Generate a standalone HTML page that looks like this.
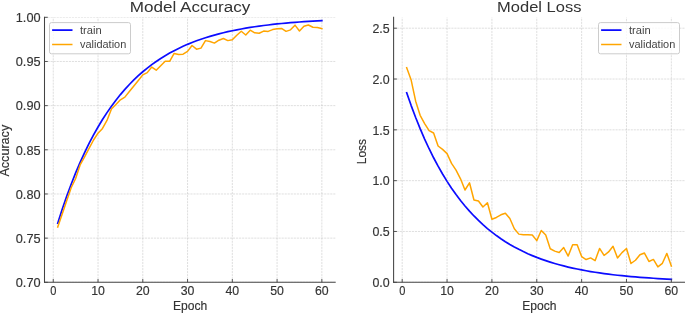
<!DOCTYPE html>
<html><head><meta charset="utf-8"><style>
html,body{margin:0;padding:0;background:#fff;}
svg{display:block;font-family:"Liberation Sans",sans-serif;will-change:transform;}
.tl{stroke:#333;stroke-width:0.15;}
.g{stroke:#b0b0b0;stroke-width:0.6;stroke-dasharray:2.12 0.92;stroke-opacity:0.68;fill:none;}
.sp{stroke:#434343;stroke-width:1.05;fill:none;}
.tk{stroke:#434343;stroke-width:0.9;fill:none;}
.tr{stroke:#0c0cff;stroke-width:1.75;fill:none;stroke-linejoin:round;stroke-linecap:butt;}
.tp{stroke-width:1.7;stroke-linecap:square;}
.val{stroke:#ffa500;stroke-width:1.5;fill:none;stroke-linejoin:round;stroke-linecap:butt;}
.vp{stroke-linecap:square;}
</style></head><body>
<svg width="685" height="313" viewBox="0 0 685 313">
<rect width="685" height="313" fill="#fff"/>
<clipPath id="c44"><rect x="44.5" y="17.3" width="291.20" height="265.00"/></clipPath>
<g clip-path="url(#c44)">
<line x1="53.26" y1="282.30" x2="53.26" y2="17.30" class="g"/>
<line x1="98.03" y1="282.30" x2="98.03" y2="17.30" class="g"/>
<line x1="142.79" y1="282.30" x2="142.79" y2="17.30" class="g"/>
<line x1="187.55" y1="282.30" x2="187.55" y2="17.30" class="g"/>
<line x1="232.32" y1="282.30" x2="232.32" y2="17.30" class="g"/>
<line x1="277.08" y1="282.30" x2="277.08" y2="17.30" class="g"/>
<line x1="321.85" y1="282.30" x2="321.85" y2="17.30" class="g"/>
<line x1="44.50" y1="282.30" x2="335.70" y2="282.30" class="g"/>
<line x1="44.50" y1="238.13" x2="335.70" y2="238.13" class="g"/>
<line x1="44.50" y1="193.97" x2="335.70" y2="193.97" class="g"/>
<line x1="44.50" y1="149.80" x2="335.70" y2="149.80" class="g"/>
<line x1="44.50" y1="105.63" x2="335.70" y2="105.63" class="g"/>
<line x1="44.50" y1="61.47" x2="335.70" y2="61.47" class="g"/>
<line x1="44.50" y1="17.30" x2="335.70" y2="17.30" class="g"/>
</g>
<polyline points="57.74,223.20 62.21,209.28 66.69,196.30 71.17,184.20 75.64,172.92 80.12,162.40 84.60,152.59 89.07,143.44 93.55,134.91 98.03,126.96 102.50,119.55 106.98,112.64 111.45,106.19 115.93,100.18 120.41,94.58 124.88,89.35 129.36,84.48 133.84,79.94 138.31,75.71 142.79,71.76 147.27,68.08 151.74,64.64 156.22,61.44 160.70,58.46 165.17,55.68 169.65,53.08 174.13,50.66 178.60,48.41 183.08,46.30 187.55,44.34 192.03,42.51 196.51,40.81 200.98,39.22 205.46,37.74 209.94,36.36 214.41,35.07 218.89,33.87 223.37,32.75 227.84,31.70 232.32,30.73 236.80,29.82 241.27,28.97 245.75,28.19 250.23,27.45 254.70,26.76 259.18,26.12 263.66,25.53 268.13,24.97 272.61,24.45 277.08,23.97 281.56,23.52 286.04,23.10 290.51,22.71 294.99,22.34 299.47,22.00 303.94,21.68 308.42,21.39 312.90,21.11 317.37,20.85 321.85,20.61" class="tr tp"/>
<polyline points="57.74,227.00 62.21,213.93 66.69,200.77 71.17,187.78 75.64,178.51 80.12,164.99 84.60,156.95 89.07,148.47 93.55,139.99 98.03,133.19 102.50,128.42 106.98,120.47 111.45,108.99 115.93,104.48 120.41,99.80 124.88,97.15 129.36,91.59 133.84,86.02 138.31,80.46 142.79,74.89 147.27,72.60 151.74,67.03 156.22,70.21 160.70,65.71 165.17,61.29 169.65,61.29 174.13,53.43 178.60,54.58 183.08,54.13 187.55,51.40 192.03,45.48 196.51,49.19 200.98,48.13 205.46,40.62 209.94,41.50 214.41,43.09 218.89,40.18 223.37,38.50 227.84,40.62 232.32,39.82 236.80,35.23 241.27,31.26 245.75,34.97 250.23,30.20 254.70,32.85 259.18,33.20 263.66,31.08 268.13,31.43 272.61,29.58 277.08,28.78 281.56,28.43 286.04,31.34 290.51,29.84 294.99,25.16 299.47,30.99 303.94,26.31 308.42,24.98 312.90,27.28 317.37,27.46 321.85,28.52" class="val vp"/>
<line x1="44.5" y1="16.8" x2="44.5" y2="282.8" class="sp"/>
<line x1="44.0" y1="282.3" x2="335.7" y2="282.3" class="sp"/>
<line x1="53.26" y1="282.3" x2="53.26" y2="279.0" class="tk"/>
<text x="53.26" y="295.10" font-size="12.3" text-anchor="middle" fill="#333333" textLength="6.15" lengthAdjust="spacingAndGlyphs" class="tl">0</text>
<line x1="98.03" y1="282.3" x2="98.03" y2="279.0" class="tk"/>
<text x="98.03" y="295.10" font-size="12.3" text-anchor="middle" fill="#333333" textLength="13.70" lengthAdjust="spacingAndGlyphs" class="tl">10</text>
<line x1="142.79" y1="282.3" x2="142.79" y2="279.0" class="tk"/>
<text x="142.79" y="295.10" font-size="12.3" text-anchor="middle" fill="#333333" textLength="13.70" lengthAdjust="spacingAndGlyphs" class="tl">20</text>
<line x1="187.55" y1="282.3" x2="187.55" y2="279.0" class="tk"/>
<text x="187.55" y="295.10" font-size="12.3" text-anchor="middle" fill="#333333" textLength="13.70" lengthAdjust="spacingAndGlyphs" class="tl">30</text>
<line x1="232.32" y1="282.3" x2="232.32" y2="279.0" class="tk"/>
<text x="232.32" y="295.10" font-size="12.3" text-anchor="middle" fill="#333333" textLength="13.70" lengthAdjust="spacingAndGlyphs" class="tl">40</text>
<line x1="277.08" y1="282.3" x2="277.08" y2="279.0" class="tk"/>
<text x="277.08" y="295.10" font-size="12.3" text-anchor="middle" fill="#333333" textLength="13.70" lengthAdjust="spacingAndGlyphs" class="tl">50</text>
<line x1="321.85" y1="282.3" x2="321.85" y2="279.0" class="tk"/>
<text x="321.85" y="295.10" font-size="12.3" text-anchor="middle" fill="#333333" textLength="13.70" lengthAdjust="spacingAndGlyphs" class="tl">60</text>
<line x1="44.5" y1="282.30" x2="47.8" y2="282.30" class="tk"/>
<text x="40.60" y="287.00" font-size="12.3" text-anchor="end" fill="#333333" textLength="24.83" lengthAdjust="spacingAndGlyphs" class="tl">0.70</text>
<line x1="44.5" y1="238.13" x2="47.8" y2="238.13" class="tk"/>
<text x="40.60" y="242.83" font-size="12.3" text-anchor="end" fill="#333333" textLength="24.83" lengthAdjust="spacingAndGlyphs" class="tl">0.75</text>
<line x1="44.5" y1="193.97" x2="47.8" y2="193.97" class="tk"/>
<text x="40.60" y="198.67" font-size="12.3" text-anchor="end" fill="#333333" textLength="24.83" lengthAdjust="spacingAndGlyphs" class="tl">0.80</text>
<line x1="44.5" y1="149.80" x2="47.8" y2="149.80" class="tk"/>
<text x="40.60" y="154.50" font-size="12.3" text-anchor="end" fill="#333333" textLength="24.83" lengthAdjust="spacingAndGlyphs" class="tl">0.85</text>
<line x1="44.5" y1="105.63" x2="47.8" y2="105.63" class="tk"/>
<text x="40.60" y="110.33" font-size="12.3" text-anchor="end" fill="#333333" textLength="24.83" lengthAdjust="spacingAndGlyphs" class="tl">0.90</text>
<line x1="44.5" y1="61.47" x2="47.8" y2="61.47" class="tk"/>
<text x="40.60" y="66.17" font-size="12.3" text-anchor="end" fill="#333333" textLength="24.83" lengthAdjust="spacingAndGlyphs" class="tl">0.95</text>
<line x1="44.5" y1="17.30" x2="47.8" y2="17.30" class="tk"/>
<text x="40.60" y="22.00" font-size="12.3" text-anchor="end" fill="#333333" textLength="24.83" lengthAdjust="spacingAndGlyphs" class="tl">1.00</text>
<text x="190.10" y="11.90" font-size="15.3" text-anchor="middle" fill="#333333" textLength="120.65" lengthAdjust="spacingAndGlyphs">Model Accuracy</text>
<text x="190.10" y="309.70" font-size="12.2" text-anchor="middle" fill="#333333" textLength="34.29" lengthAdjust="spacingAndGlyphs" class="tl">Epoch</text>
<g transform="translate(8.5,150.70) rotate(-90)">
<text x="0.00" y="0.00" font-size="12.0" text-anchor="middle" fill="#333333" textLength="51.82" lengthAdjust="spacingAndGlyphs" class="tl">Accuracy</text>
</g>
<rect x="49.50" y="22.6" width="81.0" height="31.2" rx="2" ry="2" fill="#ffffff" fill-opacity="0.8" stroke="#cccccc" stroke-width="1"/>
<line x1="52.10" y1="30.1" x2="72.50" y2="30.1" class="tr"/>
<line x1="52.10" y1="44.5" x2="72.50" y2="44.5" class="val"/>
<text x="80.00" y="33.80" font-size="10.9" text-anchor="start" fill="#444444" textLength="21.75" lengthAdjust="spacingAndGlyphs">train</text>
<text x="80.00" y="48.10" font-size="10.9" text-anchor="start" fill="#444444" textLength="46.26" lengthAdjust="spacingAndGlyphs">validation</text>
<clipPath id="c393"><rect x="393.6" y="17.3" width="291.40" height="265.00"/></clipPath>
<g clip-path="url(#c393)">
<line x1="402.20" y1="282.30" x2="402.20" y2="17.30" class="g"/>
<line x1="447.06" y1="282.30" x2="447.06" y2="17.30" class="g"/>
<line x1="491.92" y1="282.30" x2="491.92" y2="17.30" class="g"/>
<line x1="536.77" y1="282.30" x2="536.77" y2="17.30" class="g"/>
<line x1="581.63" y1="282.30" x2="581.63" y2="17.30" class="g"/>
<line x1="626.49" y1="282.30" x2="626.49" y2="17.30" class="g"/>
<line x1="671.35" y1="282.30" x2="671.35" y2="17.30" class="g"/>
<line x1="393.60" y1="282.30" x2="685.00" y2="282.30" class="g"/>
<line x1="393.60" y1="231.48" x2="685.00" y2="231.48" class="g"/>
<line x1="393.60" y1="180.66" x2="685.00" y2="180.66" class="g"/>
<line x1="393.60" y1="129.84" x2="685.00" y2="129.84" class="g"/>
<line x1="393.60" y1="79.02" x2="685.00" y2="79.02" class="g"/>
<line x1="393.60" y1="28.20" x2="685.00" y2="28.20" class="g"/>
</g>
<polyline points="406.69,92.76 411.17,105.58 415.66,117.52 420.14,128.66 424.63,139.05 429.11,148.74 433.60,157.77 438.09,166.18 442.57,174.03 447.06,181.35 451.54,188.18 456.03,194.54 460.52,200.47 465.00,206.01 469.49,211.16 473.97,215.97 478.46,220.46 482.94,224.64 487.43,228.54 491.92,232.17 496.40,235.56 500.89,238.72 505.37,241.67 509.86,244.41 514.35,246.98 518.83,249.36 523.32,251.59 527.80,253.67 532.29,255.60 536.77,257.41 541.26,259.09 545.75,260.66 550.23,262.12 554.72,263.49 559.20,264.76 563.69,265.94 568.17,267.05 572.66,268.08 577.15,269.04 581.63,269.94 586.12,270.77 590.60,271.55 595.09,272.28 599.58,272.96 604.06,273.59 608.55,274.18 613.03,274.73 617.52,275.24 622.00,275.72 626.49,276.16 630.98,276.58 635.46,276.96 639.95,277.32 644.43,277.66 648.92,277.97 653.40,278.27 657.89,278.54 662.38,278.79 666.86,279.03 671.35,279.25" class="tr tp"/>
<polyline points="406.69,67.74 411.17,80.04 415.66,101.18 420.14,115.31 424.63,123.54 429.11,130.55 433.60,132.99 438.09,146.00 442.57,149.35 447.06,153.62 451.54,163.38 456.03,170.09 460.52,178.83 465.00,190.01 469.49,182.79 473.97,199.97 478.46,200.99 482.94,206.98 487.43,202.82 491.92,219.18 496.40,217.45 500.89,214.81 505.37,213.18 509.86,218.47 514.35,228.74 518.83,234.12 523.32,234.83 527.80,234.83 532.29,234.94 536.77,240.63 541.26,230.46 545.75,235.04 550.23,248.76 554.72,251.10 559.20,252.42 563.69,247.54 568.17,256.08 572.66,244.79 577.15,244.79 581.63,256.59 586.12,259.53 590.60,257.91 595.09,260.65 599.58,248.45 604.06,255.47 608.55,251.91 613.03,246.32 617.52,257.91 622.00,252.62 626.49,248.45 630.98,263.50 635.46,260.24 639.95,254.76 644.43,253.03 648.92,261.46 653.40,259.43 657.89,266.85 662.38,263.29 666.86,253.43 671.35,266.04" class="val vp"/>
<line x1="393.6" y1="16.8" x2="393.6" y2="282.8" class="sp"/>
<line x1="393.1" y1="282.3" x2="685.0" y2="282.3" class="sp"/>
<line x1="402.20" y1="282.3" x2="402.20" y2="279.0" class="tk"/>
<text x="402.20" y="295.10" font-size="12.3" text-anchor="middle" fill="#333333" textLength="6.15" lengthAdjust="spacingAndGlyphs" class="tl">0</text>
<line x1="447.06" y1="282.3" x2="447.06" y2="279.0" class="tk"/>
<text x="447.06" y="295.10" font-size="12.3" text-anchor="middle" fill="#333333" textLength="13.70" lengthAdjust="spacingAndGlyphs" class="tl">10</text>
<line x1="491.92" y1="282.3" x2="491.92" y2="279.0" class="tk"/>
<text x="491.92" y="295.10" font-size="12.3" text-anchor="middle" fill="#333333" textLength="13.70" lengthAdjust="spacingAndGlyphs" class="tl">20</text>
<line x1="536.77" y1="282.3" x2="536.77" y2="279.0" class="tk"/>
<text x="536.77" y="295.10" font-size="12.3" text-anchor="middle" fill="#333333" textLength="13.70" lengthAdjust="spacingAndGlyphs" class="tl">30</text>
<line x1="581.63" y1="282.3" x2="581.63" y2="279.0" class="tk"/>
<text x="581.63" y="295.10" font-size="12.3" text-anchor="middle" fill="#333333" textLength="13.70" lengthAdjust="spacingAndGlyphs" class="tl">40</text>
<line x1="626.49" y1="282.3" x2="626.49" y2="279.0" class="tk"/>
<text x="626.49" y="295.10" font-size="12.3" text-anchor="middle" fill="#333333" textLength="13.70" lengthAdjust="spacingAndGlyphs" class="tl">50</text>
<line x1="671.35" y1="282.3" x2="671.35" y2="279.0" class="tk"/>
<text x="671.35" y="295.10" font-size="12.3" text-anchor="middle" fill="#333333" textLength="13.70" lengthAdjust="spacingAndGlyphs" class="tl">60</text>
<line x1="393.6" y1="282.30" x2="396.90000000000003" y2="282.30" class="tk"/>
<text x="389.70" y="287.00" font-size="12.3" text-anchor="end" fill="#333333" textLength="17.28" lengthAdjust="spacingAndGlyphs" class="tl">0.0</text>
<line x1="393.6" y1="231.48" x2="396.90000000000003" y2="231.48" class="tk"/>
<text x="389.70" y="236.18" font-size="12.3" text-anchor="end" fill="#333333" textLength="17.28" lengthAdjust="spacingAndGlyphs" class="tl">0.5</text>
<line x1="393.6" y1="180.66" x2="396.90000000000003" y2="180.66" class="tk"/>
<text x="389.70" y="185.36" font-size="12.3" text-anchor="end" fill="#333333" textLength="17.28" lengthAdjust="spacingAndGlyphs" class="tl">1.0</text>
<line x1="393.6" y1="129.84" x2="396.90000000000003" y2="129.84" class="tk"/>
<text x="389.70" y="134.54" font-size="12.3" text-anchor="end" fill="#333333" textLength="17.28" lengthAdjust="spacingAndGlyphs" class="tl">1.5</text>
<line x1="393.6" y1="79.02" x2="396.90000000000003" y2="79.02" class="tk"/>
<text x="389.70" y="83.72" font-size="12.3" text-anchor="end" fill="#333333" textLength="17.28" lengthAdjust="spacingAndGlyphs" class="tl">2.0</text>
<line x1="393.6" y1="28.20" x2="396.90000000000003" y2="28.20" class="tk"/>
<text x="389.70" y="32.90" font-size="12.3" text-anchor="end" fill="#333333" textLength="17.28" lengthAdjust="spacingAndGlyphs" class="tl">2.5</text>
<text x="539.30" y="11.90" font-size="15.3" text-anchor="middle" fill="#333333" textLength="84.36" lengthAdjust="spacingAndGlyphs">Model Loss</text>
<text x="539.30" y="309.70" font-size="12.2" text-anchor="middle" fill="#333333" textLength="34.29" lengthAdjust="spacingAndGlyphs" class="tl">Epoch</text>
<g transform="translate(366.3,151.60) rotate(-90)">
<text x="0.00" y="0.00" font-size="12.0" text-anchor="middle" fill="#333333" textLength="25.44" lengthAdjust="spacingAndGlyphs" class="tl">Loss</text>
</g>
<rect x="598.50" y="22.6" width="81.0" height="31.2" rx="2" ry="2" fill="#ffffff" fill-opacity="0.8" stroke="#cccccc" stroke-width="1"/>
<line x1="601.10" y1="30.1" x2="621.50" y2="30.1" class="tr"/>
<line x1="601.10" y1="44.5" x2="621.50" y2="44.5" class="val"/>
<text x="629.00" y="33.80" font-size="10.9" text-anchor="start" fill="#444444" textLength="21.75" lengthAdjust="spacingAndGlyphs">train</text>
<text x="629.00" y="48.10" font-size="10.9" text-anchor="start" fill="#444444" textLength="46.26" lengthAdjust="spacingAndGlyphs">validation</text>
</svg></body></html>
